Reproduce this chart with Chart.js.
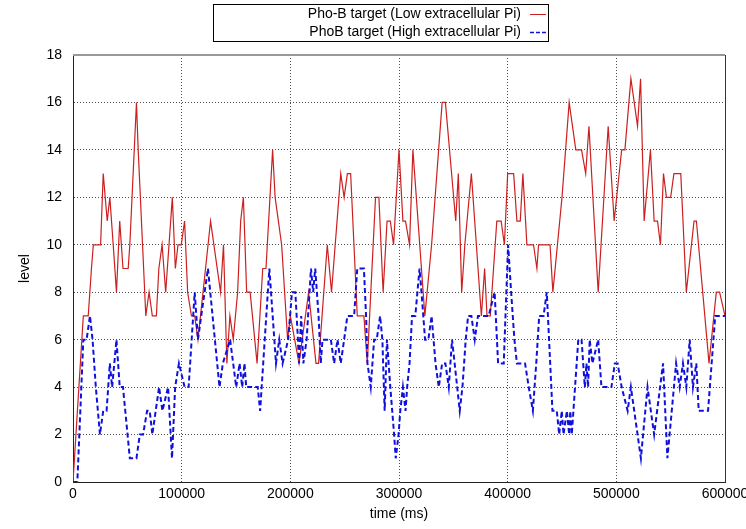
<!DOCTYPE html>
<html>
<head>
<meta charset="utf-8">
<script src="https://cdn.jsdelivr.net/npm/chart.js@4.4.1/dist/chart.umd.min.js"></script>
<style>
  body { margin: 0; background: #fff; }
  #wrap { width: 746px; height: 529px; }
</style>
</head>
<body>
<div id="wrap"><canvas id="levelChart" width="746" height="529"></canvas></div>
<script>
var seriesNames = ["Pho-B target (Low extracellular Pi)", "PhoB target (High extracellular Pi)"];

// low Pi run (red)
var lowTimes = [0, 9500, 14000, 17000, 18700, 25400, 27800, 31500, 33900, 37000, 40000, 43000, 46000, 50800, 52300, 58400, 60000, 67000, 70000, 73000, 76700, 79000, 82000, 85300, 91400, 94200, 96600, 99600, 102700, 105500, 109000, 112000, 115000, 126600, 135800, 138500, 141600, 144400, 147500, 151500, 154300, 156800, 159800, 163000, 169400, 174600, 177600, 183700, 186000, 192000, 197500, 200000, 208000, 216800, 223600, 226000, 234000, 237900, 246400, 249500, 252500, 255500, 261600, 267700, 270800, 278400, 281500, 285400, 289000, 292000, 295000, 300000, 303600, 306000, 309700, 312800, 323800, 330000, 339700, 342700, 352200, 354600, 357700, 360600, 366600, 375800, 378800, 381000, 384000, 390000, 394000, 397000, 400000, 405500, 408500, 411600, 414000, 417700, 423800, 426900, 428400, 439000, 441600, 450000, 456600, 462700, 468000, 471800, 474800, 483300, 492500, 498000, 504900, 507900, 513400, 519500, 522300, 525600, 531400, 534800, 537900, 540600, 543400, 546100, 550000, 553000, 559300, 564400, 571500, 573700, 585300, 592000, 595000, 600000];
var lowLevels = [0, 7, 7, 9, 10, 10, 13, 11, 12, 10, 8, 11, 9, 9, 10, 16, 14, 7, 8, 7, 7, 9, 10, 8, 12, 9, 10, 10, 11, 8, 7, 7, 6, 11, 8, 10, 5, 7, 6, 8, 11, 12, 8, 8, 5, 9, 9, 14, 12, 10, 6, 7, 5, 8, 5, 5, 10, 8, 13, 12, 13, 13, 7, 7, 5, 12, 12, 8, 11, 11, 10, 14, 11, 11, 10, 14, 7, 10, 16, 16, 11, 13, 8, 10, 13, 7, 9, 7, 7, 11, 11, 10, 13, 13, 11, 11, 13, 10, 10, 9, 10, 10, 8, 12, 16, 14, 14, 13, 15, 8, 15, 11, 14, 14, 17, 15, 17, 11, 14, 11, 11, 10, 13, 12, 12, 13, 13, 8, 11, 11, 5, 8, 8, 7];

// high Pi run (blue)
var highTimes = [0, 4000, 9500, 12500, 15600, 18000, 21000, 24800, 27800, 30900, 33900, 36000, 40000, 43000, 46000, 52300, 58400, 61500, 64500, 68200, 70600, 73000, 79200, 82300, 87500, 91100, 94000, 97500, 102700, 106400, 112000, 115000, 118000, 124200, 134800, 137900, 144600, 150200, 153300, 155700, 157800, 159400, 162300, 170000, 172200, 180700, 186800, 189800, 192900, 198000, 201500, 204600, 207000, 208000, 210000, 212000, 215000, 219000, 221000, 222900, 226000, 228000, 229600, 237300, 240300, 243400, 246400, 249500, 252500, 258700, 261600, 267700, 269700, 271000, 274000, 277100, 279500, 282600, 284700, 286800, 288900, 292000, 295500, 297000, 299600, 301200, 303600, 306000, 307500, 309700, 312000, 315000, 318900, 320700, 324000, 327000, 330000, 333600, 336600, 339700, 342700, 345800, 348800, 351200, 355900, 358400, 361400, 363600, 366600, 369700, 372700, 382500, 388000, 391200, 396400, 400400, 403200, 406200, 408500, 416000, 419400, 423200, 426300, 429000, 433000, 436000, 438100, 441200, 445200, 447400, 449800, 451400, 454500, 456600, 457600, 459000, 462000, 465000, 468000, 471000, 472500, 474000, 475500, 478000, 483300, 486300, 495500, 498600, 501200, 504900, 510400, 513400, 522600, 528700, 534800, 543000, 547000, 553000, 555000, 558300, 561300, 564400, 567500, 570500, 573600, 575800, 584400, 591000, 600000];
var highLevels = [0, 0, 6, 6, 7, 6, 4, 2, 3, 3, 5, 4, 6, 4, 4, 1, 1, 2, 2, 3, 3, 2, 4, 3, 4, 1, 4, 5, 4, 4, 8, 6, 7, 9, 4, 5, 6, 4, 5, 4, 5, 4, 4, 4, 3, 9, 5, 6, 5, 6, 8, 8, 6, 5, 7, 5, 6, 9, 8, 9, 7, 5, 6, 6, 5, 6, 5, 6, 7, 7, 9, 9, 7, 5, 4, 6, 6, 7, 6, 3, 6, 4, 2, 1, 2, 3, 4, 3, 4, 5, 7, 7, 9, 8, 6, 6, 7, 5, 4, 5, 5, 4, 6, 5, 3, 4, 6, 7, 7, 6, 7, 7, 8, 5, 5, 10, 8, 6, 5, 5, 4, 3, 5, 7, 7, 8, 6, 3, 3, 2, 3, 2, 3, 2, 3, 2, 4, 6, 6, 4, 5, 4, 6, 5, 6, 4, 4, 5, 5, 4, 3, 4, 1, 4, 2, 5, 1, 4, 5, 4, 5, 4, 6, 4, 5, 3, 3, 7, 7];

var colours = ["#cc2020", "#1010dd"];

function toPoints(xs, ys) {
  return xs.map(function (x, i) { return { x: x, y: ys[i] }; });
}

var frameAndLegend = {
  id: "frameAndLegend",
  afterDraw: function (chart) {
    var c = chart.ctx, a = chart.chartArea;
    c.save();
    c.setLineDash([]);
    c.lineWidth = 2;
    c.strokeStyle = "#999";
    c.beginPath(); c.moveTo(a.left, a.top); c.lineTo(a.right, a.top); c.stroke();
    c.lineWidth = 1;
    c.strokeStyle = "#333";
    c.beginPath(); c.moveTo(a.right + 0.5, a.top); c.lineTo(a.right + 0.5, a.bottom); c.stroke();

    // legend box
    c.strokeStyle = "#000";
    c.strokeRect(213.5, 4.5, 335, 37);
    c.font = "14px 'Liberation Sans', Arial, sans-serif";
    c.fillStyle = "#000";
    c.textAlign = "right";
    c.textBaseline = "middle";
    for (var i = 0; i < seriesNames.length; i++) {
      var y = 14 + i * 18;
      c.fillText(seriesNames[i], 521, y);
      c.strokeStyle = colours[i];
      c.lineWidth = i === 0 ? 1 : 1.5;
      c.setLineDash(i === 0 ? [] : [4, 2]);
      c.beginPath(); c.moveTo(530, y + 0.5); c.lineTo(546, y + 0.5); c.stroke();
    }
    c.restore();
  }
};

var ctx = document.getElementById("levelChart").getContext("2d");
var levelChart = new Chart(ctx, {
  type: "line",
  data: {
    datasets: [
      {
        label: seriesNames[0],
        data: toPoints(lowTimes, lowLevels),
        borderColor: colours[0],
        borderWidth: 1.2,
        pointRadius: 0,
        tension: 0,
        fill: false,
        order: 1,
      },
      {
        label: seriesNames[1],
        data: toPoints(highTimes, highLevels),
        borderColor: colours[1],
        borderWidth: 2,
        borderDash: [5, 3],
        pointRadius: 0,
        tension: 0,
        fill: false,
        order: 0,
      },
    ],
  },
  options: {
    responsive: false,
    animation: false,
    layout: { padding: { top: 55, right: 21, left: 0, bottom: 0 } },
    plugins: {
      legend: { display: false },
      tooltip: { enabled: false },
    },
    scales: {
      x: {
        type: "linear",
        min: 0,
        max: 600000,
        ticks: {
          stepSize: 100000,
          padding: 4,
          color: "#000",
          font: { family: "'Liberation Sans', Arial, sans-serif", size: 14 },
          maxRotation: 0,
          callback: function (v) { return String(v); },
        },
        grid: { color: "rgba(0,0,0,0.7)", drawTicks: false },
        border: { color: "#222", width: 1, dash: [1, 2] },
        title: {
          display: true,
          text: "time (ms)",
          color: "#000",
          font: { family: "'Liberation Sans', Arial, sans-serif", size: 14 },
          padding: { top: 0, bottom: 6 },
        },
        afterFit: function (s) { s.height = 47; s.paddingLeft = 0; s.paddingRight = 0; },
      },
      y: {
        min: 0,
        max: 18,
        ticks: {
          stepSize: 2,
          padding: 11,
          color: "#000",
          font: { family: "'Liberation Sans', Arial, sans-serif", size: 14 },
        },
        grid: { color: "rgba(0,0,0,0.7)", drawTicks: false },
        border: { color: "#222", width: 1, dash: [1, 2] },
        title: {
          display: true,
          text: "level",
          color: "#000",
          font: { family: "'Liberation Sans', Arial, sans-serif", size: 14 },
          padding: { top: 17, bottom: 0 },
        },
        afterFit: function (s) { s.width = 73; s.paddingTop = 0; s.paddingBottom = 0; },
      },
    },
  },
  plugins: [frameAndLegend],
});
</script>
</body>
</html>
